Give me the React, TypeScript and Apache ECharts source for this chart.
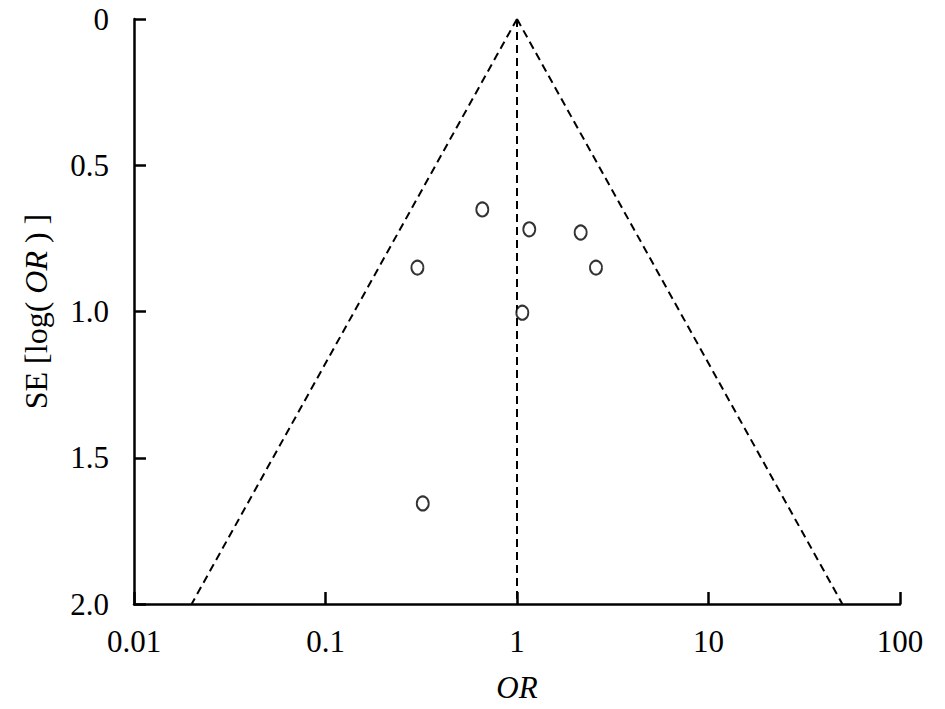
import React, { useEffect, useRef } from "react";
import * as echarts from "echarts";

const orValues = [0.659, 1.159, 2.15, 0.302, 2.585, 1.066, 0.322];
const seValues = [0.651, 0.719, 0.73, 0.85, 0.85, 1.004, 1.656];
const funnelLeft = [[1, 0], [0.02, 2]];
const funnelRight = [[1, 0], [50, 2]];
const centerLine = [[1, 0], [1, 2]];
const xTickLabels = ["0.01", "0.1", "1", "10", "100"];
const yTickLabels = ["0", "0.5", "1.0", "1.5", "2.0"];

const FONT = "Liberation Serif";
const FS = 31;

export default function App() {
  const ref = useRef<HTMLDivElement>(null);
  useEffect(() => {
    if (!ref.current) return;
    const chart = echarts.init(ref.current, undefined, { renderer: "svg" });
    const dashed = { color: "#000", width: 2, type: [8, 5] as number[] };
    chart.setOption({
      animation: false,
      backgroundColor: "#fff",
      grid: { left: 134, right: 45, top: 19, bottom: 105, containLabel: false },
      xAxis: {
        type: "log",
        logBase: 10,
        min: 0.01,
        max: 100,
        position: "bottom",
        name: "OR",
        nameLocation: "middle",
        nameGap: 68,
        nameTextStyle: { fontFamily: FONT, fontSize: FS, fontStyle: "italic", color: "#000" },
        axisLine: { onZero: false, lineStyle: { color: "#000", width: 2.5 } },
        axisTick: { inside: true, length: 12, lineStyle: { color: "#000", width: 2.5 } },
        axisLabel: {
          margin: 22,
          fontFamily: FONT,
          fontSize: FS,
          color: "#000",
          formatter: (v: number) => {
            const i = Math.round(Math.log10(v)) + 2;
            return xTickLabels[i] ?? String(v);
          },
        },
        splitLine: { show: false },
        minorTick: { show: false },
      },
      yAxis: {
        type: "value",
        inverse: true,
        min: 0,
        max: 2,
        interval: 0.5,
        name: "{n|SE [log( }{i|OR}{n| ) ]}",
        nameLocation: "middle",
        nameGap: 82,
        nameRotate: 90,
        nameTextStyle: {
          rich: {
            n: { fontFamily: FONT, fontSize: 32, color: "#000" },
            i: { fontFamily: FONT, fontSize: 32, fontStyle: "italic", color: "#000" },
          },
        },
        axisLine: { onZero: false, lineStyle: { color: "#000", width: 2.5 } },
        axisTick: { inside: true, length: 12, lineStyle: { color: "#000", width: 2.5 } },
        axisLabel: {
          margin: 25,
          fontFamily: FONT,
          fontSize: FS,
          color: "#000",
          formatter: (v: number) => yTickLabels[Math.round(v / 0.5)] ?? String(v),
        },
        splitLine: { show: false },
      },
      series: [
        { type: "line", data: funnelLeft, symbol: "none", lineStyle: dashed, silent: true },
        { type: "line", data: funnelRight, symbol: "none", lineStyle: dashed, silent: true },
        { type: "line", data: centerLine, symbol: "none", lineStyle: dashed, silent: true },
        {
          type: "scatter",
          data: orValues.map((o, i) => [o, seValues[i]]),
          symbol: "circle",
          symbolSize: [12, 14],
          itemStyle: { color: "#fff", borderColor: "#000", borderWidth: 2 },
          z: 5,
        },
      ],
    });
    return () => chart.dispose();
  }, []);
  return (
    <div
      ref={ref}
      style={{ position: "fixed", left: 0, top: 0, width: 945, height: 709 }}
    />
  );
}
